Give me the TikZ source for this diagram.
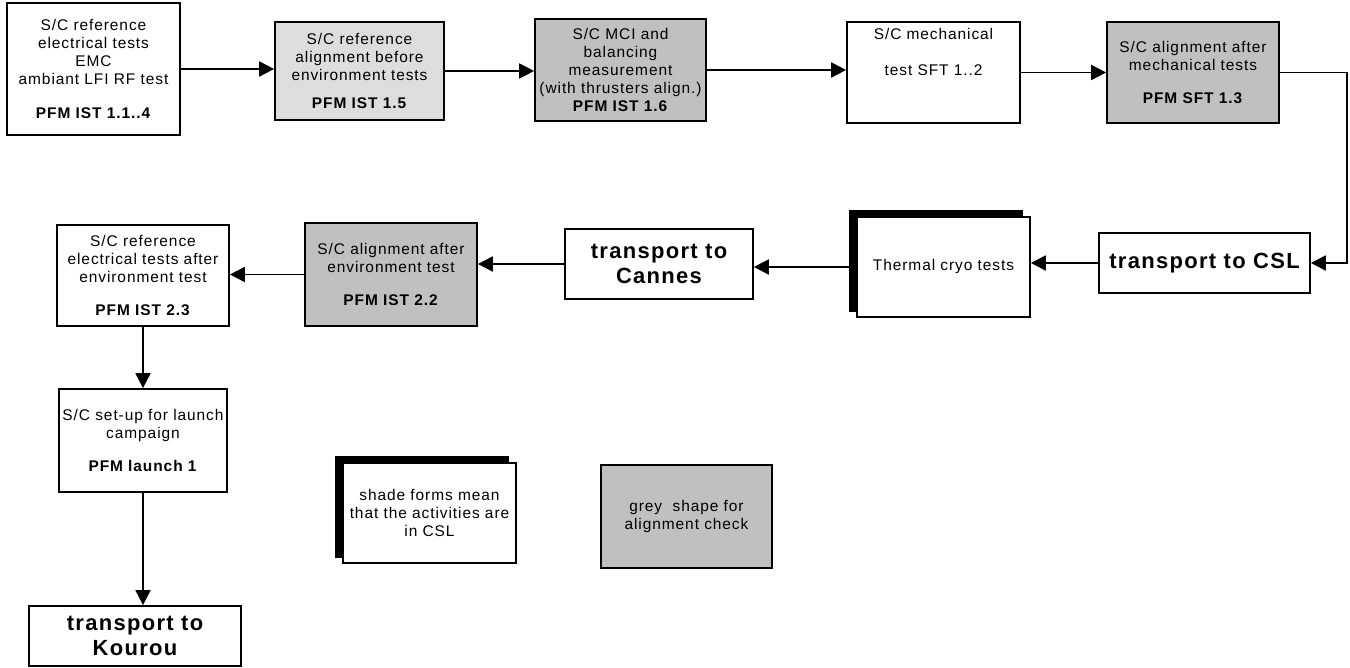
\documentclass[tikz,border=0pt]{standalone}
\usepackage{fontspec}
\setmainfont{Liberation Sans}[LetterSpace=6]
\usetikzlibrary{arrows.meta,shadows}

\definecolor{lightgrey}{HTML}{DDDDDD}
\definecolor{aligngrey}{HTML}{C0C0C0}

\begin{document}
\begin{tikzpicture}[
    x=0.02cm, y=-0.02cm,
    font=\fontsize{8.8}{10.2}\selectfont,
    stagebox/.style={
        draw,
        line width=1pt,
        fill=white,
        align=center,
        inner sep=1pt
    },
    refbox/.style={stagebox, fill=lightgrey},
    alignbox/.style={stagebox, fill=aligngrey},
    cslbox/.style={stagebox, copy shadow={shadow xshift=-0.15cm, shadow yshift=0.12cm, fill=black, draw=black}},
    transbox/.style={stagebox, font=\fontsize{12.5}{14.7}\selectfont\bfseries},
    arrow/.style={-{Triangle[length=8.5pt,width=8.5pt]}, line width=1.1pt}
]
\useasboundingbox (0,0) rectangle (1350,668);

% first row
\node[stagebox, minimum width=3.46cm, minimum height=2.64cm] (ist11) at (93.5,69)
    {S/C reference\\electrical tests\\EMC\\ambiant LFI RF test\\[9pt]\textbf{PFM IST 1.1..4}};
\node[refbox, minimum width=3.38cm, minimum height=1.96cm] (ist15) at (359.5,71)
    {S/C reference\\alignment before\\environment tests\\[6pt]\textbf{PFM IST 1.5}};
\node[alignbox, minimum width=3.42cm, minimum height=2.04cm] (ist16) at (620.5,70)
    {S/C MCI and\\balancing\\measurement\\(with thrusters align.)\\\textbf{PFM IST 1.6}};
\node[stagebox, minimum width=3.46cm, minimum height=2.02cm] (sft12) at (933.5,72.5)
    {S/C mechanical\\[10pt]test SFT 1..2\\[10pt]\strut};
\node[alignbox, minimum width=3.44cm, minimum height=2.02cm] (sft13) at (1193,72.5)
    {S/C alignment after\\mechanical tests\\[9pt]\textbf{PFM SFT 1.3}};

% second row, right to left
\node[transbox, minimum width=4.22cm, minimum height=1.2cm] (csl) at (1204.5,263) {transport to CSL};
\node[cslbox, minimum width=3.46cm, minimum height=2cm] (cryo) at (943.5,267) {Thermal cryo tests};
\node[transbox, minimum width=3.76cm, minimum height=1.4cm] (cannes) at (659,264) {transport to\\Cannes};
\node[alignbox, minimum width=3.44cm, minimum height=2.06cm] (ist22) at (391,274.5)
    {S/C alignment after\\environment test\\[9pt]\textbf{PFM IST 2.2}};
\node[stagebox, minimum width=3.44cm, minimum height=2.02cm] (ist23) at (143,275.5)
    {S/C reference\\electrical tests after\\environment test\\[9pt]\textbf{PFM IST 2.3}};

% launch
\node[stagebox, minimum width=3.36cm, minimum height=2.06cm] (launch) at (143,440.5)
    {S/C set-up for launch\\campaign\\[9pt]\textbf{PFM launch 1}};
\node[transbox, minimum width=4.24cm, minimum height=1.2cm] (kourou) at (135,636) {transport to\\Kourou};

% legend
\node[cslbox, minimum width=3.46cm, minimum height=2cm] (legshade) at (429.5,513)
    {shade forms mean\\that the activities are\\in CSL};
\node[alignbox, minimum width=3.42cm, minimum height=2.06cm] (leggrey) at (686.5,516.5)
    {grey\ \ shape for\\alignment check};

\draw[arrow] (ist11.east) -- (ist11.east -| ist15.west);
\draw[arrow] (ist15.east) -- (ist15.east -| ist16.west);
\draw[arrow] (ist16.east) -- (ist16.east -| sft12.west);
\draw[arrow] (sft12.east) -- (sft13.west);
\draw[arrow] (sft13.east) -- ++(67,0) |- (csl.east);
\draw[arrow] (csl.west) -- (csl.west -| cryo.east);
\draw[arrow] (cryo.west) -- (cryo.west -| cannes.east);
\draw[arrow] (cannes.west) -- (cannes.west -| ist22.east);
\draw[arrow] (ist22.west) -- (ist22.west -| ist23.east);
\draw[arrow] (ist23.south) -- (launch.north);
\draw[arrow] (launch.south) -- (launch.south |- kourou.north);

\end{tikzpicture}
\end{document}
